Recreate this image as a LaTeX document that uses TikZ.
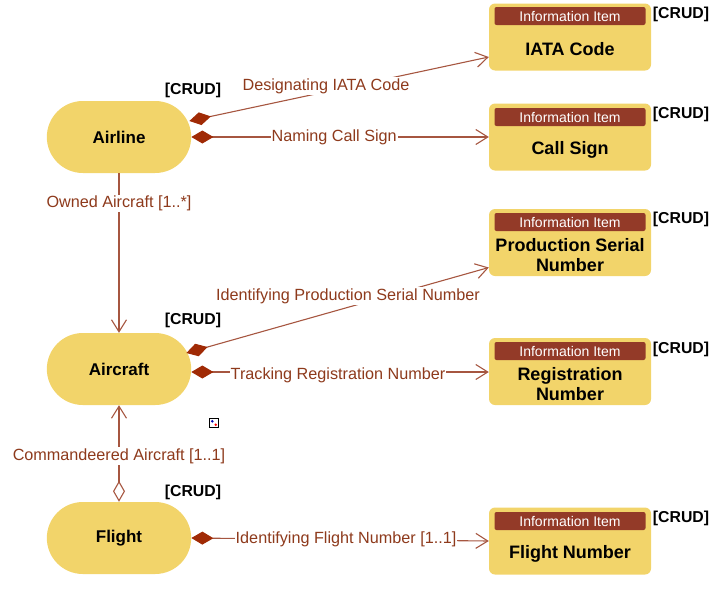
\documentclass[tikz,border=0pt]{standalone}
\usepackage{fontspec}
\setmainfont{Liberation Sans}
\usetikzlibrary{shapes.misc,arrows.meta,calc}
\definecolor{ent}{HTML}{F2D46A}
\definecolor{hdr}{HTML}{933A28}
\definecolor{ln}{HTML}{A65640}
\definecolor{lbl}{HTML}{8E3A1C}
\definecolor{dia}{HTML}{A02A05}
\tikzset{
  entity/.style={rounded rectangle, fill=ent, minimum width=151pt, minimum height=72pt, font=\fontsize{17}{19}\selectfont\bfseries},
  infobox/.style={rectangle, rounded corners=6pt, fill=ent, minimum width=162pt, minimum height=67pt},
  infohdr/.style={rectangle, rounded corners=2pt, fill=hdr, text=white, minimum width=151pt, minimum height=18pt, inner sep=0pt, font=\fontsize{14}{15}\selectfont},
  infotxt/.style={align=center, font=\fontsize{18}{20}\selectfont\bfseries, inner sep=0pt},
  crud/.style={font=\fontsize{15.8}{17}\selectfont\bfseries, inner sep=0pt},
  conn/.style={draw=ln, line width=1.1pt},
  lab/.style={fill=white, text=lbl, inner sep=1pt, font=\fontsize{16.2}{18}\selectfont},
  comp/.style={{Diamond[length=22pt,width=13pt,fill=dia,color=dia]}-{Straight Barb[length=12pt,width=15pt]}},
  aggr/.style={{Diamond[length=21pt,width=12pt,open,fill=white]}-{Straight Barb[length=12pt,width=15pt]}},
  navi/.style={-{Straight Barb[length=12pt,width=15pt]}},
}
\begin{document}
\begin{tikzpicture}[x=1pt,y=-1pt]
\useasboundingbox (0,0) rectangle (725,589);

% entities
\node[entity] (airline) at (119,137) {Airline};
\node[entity] (aircraft) at (119,369) {Aircraft};
\node[entity] (flight) at (119,538) {Flight};
\node[crud] (c1) at (193,90) {[CRUD]};
\node[crud] (c2) at (193,320) {[CRUD]};
\node[crud] (c3) at (193,492) {[CRUD]};

% information items
\node[infobox] (iata) at (570,37) {};
\node[infohdr] (iatah) at (570,16) {Information Item};
\node[infotxt] (iatat) at (570,49) {IATA Code};
\node[crud] (c4) at (681,14) {[CRUD]};

\node[infobox] (call) at (570,137) {};
\node[infohdr] (callh) at (570,117) {Information Item};
\node[infotxt] (callt) at (570,150) {Call Sign};
\node[crud] (c5) at (681,114) {[CRUD]};

\node[infobox] (psn) at (570,242.5) {};
\node[infohdr] (psnh) at (570,222) {Information Item};
\node[infotxt] (psnt) at (570,255) {Production Serial\\Number};
\node[crud] (c6) at (681,219) {[CRUD]};

\node[infobox] (reg) at (570,371.5) {};
\node[infohdr] (regh) at (570,351) {Information Item};
\node[infotxt] (regt) at (570,384.5) {Registration\\Number};
\node[crud] (c7) at (681,349) {[CRUD]};

\node[infobox] (fno) at (570,541) {};
\node[infohdr] (fnoh) at (570,521) {Information Item};
\node[infotxt] (fnot) at (570,554) {Flight Number};
\node[crud] (c8) at (681,518) {[CRUD]};

% connectors
\draw[conn, comp] ($(airline.east)+(-2,-16)$) -- ($(iata.west)+(0,20)$);
\node[lab] (l1) at (326,86) {Designating IATA Code};
\draw[conn, comp] (airline.east) -- node[lab, pos=0.48] {Naming Call Sign} (call.west);
\draw[conn, navi] (airline.south) -- node[lab, pos=0.19] {Owned Aircraft [1..*]} (aircraft.north);
\draw[conn, comp] ($(aircraft.east)+(-5,-16)$) -- ($(psn.west)+(0,25)$);
\node[lab] (l2) at (348,296) {Identifying Production Serial Number};
\draw[conn, comp] ($(aircraft.east)+(0,3)$) -- ($(reg.west)+(0,0.5)$);
\node[lab] (l3) at (338,375) {Tracking Registration Number};
\draw[conn, aggr] (flight.north) -- (aircraft.south);
\node[lab] (l4) at (119,456) {Commandeered Aircraft [1..1]};
\draw[conn, comp] (flight.east) -- node[lab, pos=0.52] {Identifying Flight Number [1..1]} (fno.west);

% small icon
\node[draw=black, line width=0.8pt, fill=white, minimum size=9pt, inner sep=0pt] (icon) at (214,423) {};
\fill[blue!70!black] (212.3,421.3) circle (1.4pt);
\fill[red] (215.7,424.7) circle (1.4pt);
\end{tikzpicture}
\end{document}
